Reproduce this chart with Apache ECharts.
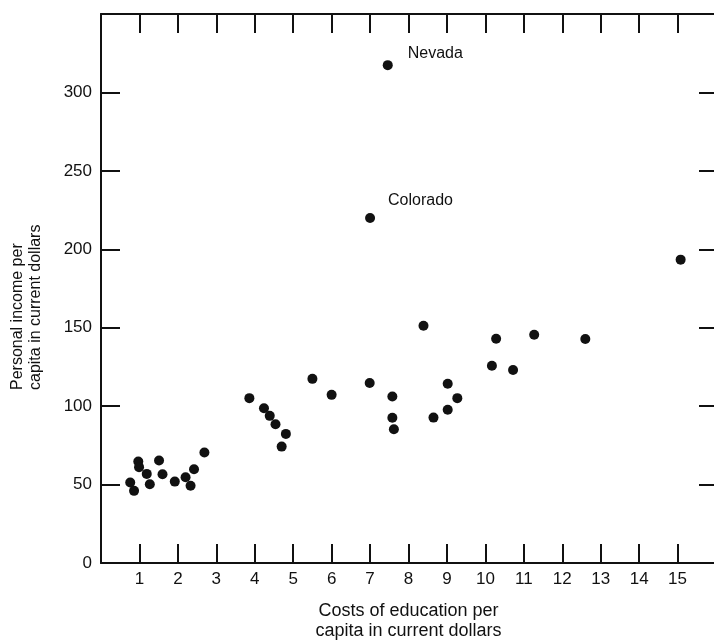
<!DOCTYPE html>
<html>
<head>
<meta charset="utf-8">
<script src="https://cdn.jsdelivr.net/npm/echarts@6/dist/echarts.min.js"></script>
<style>
  html, body { margin: 0; padding: 0; background: #fff; }
  #chart { width: 714px; height: 641px; }
</style>
</head>
<body>
<div id="chart"></div>
<script>
// costs of education per capita (x) and personal income per capita (y), current dollars
var costs = [0.76, 0.86, 0.97, 0.99, 1.19, 1.27, 1.51, 1.60, 1.92, 2.20, 2.33, 2.42, 2.69,
  3.86, 4.24, 4.39, 4.54, 4.70, 4.81, 5.50, 6.00, 6.99, 7.58, 7.58, 7.62,
  8.39, 8.65, 9.02, 9.02, 9.27, 10.17, 10.28, 10.72, 11.27, 12.60, 15.08];
var incomes = [51.3, 46.0, 64.7, 61.1, 56.8, 50.2, 65.3, 56.6, 51.9, 54.7, 49.3, 59.8, 70.4,
  105.1, 98.7, 93.8, 88.5, 74.2, 82.3, 117.4, 107.2, 114.7, 106.1, 92.6, 85.3,
  151.3, 92.7, 114.3, 97.7, 105.1, 125.7, 143.0, 123.0, 145.5, 142.8, 193.4];

// states named on the chart
var noteStates = ['Nevada', 'Colorado'];
var noteCosts = [7.46, 7.0];
var noteIncomes = [317.4, 220.0];

var ink = '#111';
var font = '"Liberation Sans", Arial, Helvetica, sans-serif';

var chart = echarts.init(document.getElementById('chart'));

var points = costs.map(function (c, i) { return [c, incomes[i]]; });
var notes = noteStates.map(function (s, i) {
  return {
    name: s,
    value: [noteCosts[i], noteIncomes[i]],
    label: { offset: i === 0 ? [10, -12] : [8, -17] }
  };
});

var axisLine = { show: true, onZero: false, lineStyle: { color: ink, width: 2 } };
var tick = function (len) {
  return { show: true, inside: true, length: len, lineStyle: { color: ink, width: 2 } };
};

chart.setOption({
  backgroundColor: '#fff',
  animation: false,
  // v6 would otherwise shrink the grid to keep names inside the canvas
  grid: { left: 101, right: -2, top: 14, bottom: 78, outerBoundsMode: 'none', containLabel: false },
  xAxis: [
    {
      type: 'value', position: 'bottom', min: 0, max: 16, interval: 1,
      axisLine: axisLine, axisTick: tick(19), splitLine: { show: false },
      axisLabel: {
        color: ink, fontFamily: font, fontSize: 17, margin: 8,
        formatter: function (v) { return (v === 0 || v === 16) ? '' : v; }
      },
      name: 'Costs of education per\ncapita in current dollars',
      nameLocation: 'middle', nameGap: 38,
      nameTextStyle: { color: ink, fontFamily: font, fontSize: 18, lineHeight: 20 }
    },
    {
      type: 'value', position: 'top', min: 0, max: 16, interval: 1,
      axisLine: axisLine, axisTick: tick(19), splitLine: { show: false },
      axisLabel: { show: false }
    }
  ],
  yAxis: [
    {
      type: 'value', position: 'left', min: 0, max: 350, interval: 50,
      axisLine: axisLine, axisTick: tick(19), splitLine: { show: false },
      axisLabel: {
        color: ink, fontFamily: font, fontSize: 17, margin: 9,
        formatter: function (v) { return v === 350 ? '' : v; }
      }
    },
    {
      type: 'value', position: 'right', min: 0, max: 350, interval: 50,
      axisLine: axisLine, axisTick: tick(17), splitLine: { show: false },
      axisLabel: { show: false }
    }
  ],
  graphic: [
    {
      type: 'text', x: 27, y: 390, rotation: Math.PI / 2,
      style: {
        text: 'Personal income per\ncapita in current dollars',
        fill: ink, fontFamily: font, fontSize: 16, lineHeight: 18,
        align: 'left', verticalAlign: 'middle',
        textAlign: 'left', textVerticalAlign: 'middle'
      }
    }
  ],
  series: [
    {
      type: 'scatter', symbolSize: 10, itemStyle: { color: ink, opacity: 1 },
      data: points
    },
    {
      type: 'scatter', symbolSize: 10, itemStyle: { color: ink, opacity: 1 },
      data: notes,
      label: {
        show: true, position: 'right', formatter: '{b}',
        color: ink, fontFamily: font, fontSize: 16
      }
    }
  ]
});
</script>
</body>
</html>
